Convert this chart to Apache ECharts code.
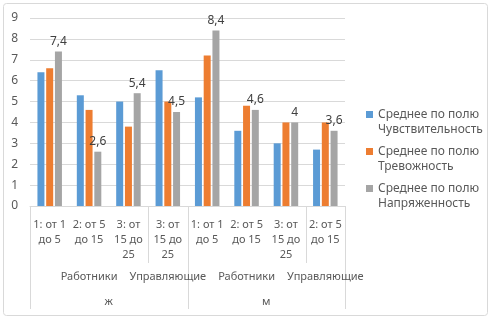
<!DOCTYPE html>
<html>
<head>
<meta charset="utf-8">
<script src="https://cdn.jsdelivr.net/npm/echarts@6/dist/echarts.min.js"></script>
<style>
  html, body { margin: 0; padding: 0; background: #fff; }
  #chart { width: 491px; height: 319px; }
</style>
</head>
<body>
<div id="chart"></div>
<script>
  // категории нижнего уровня
  var categories = ['1: от 1\nдо 5', '2: от 5\nдо 15', '3: от\n15 до\n25', '3: от\n15 до\n25',
    '1: от 1\nдо 5', '2: от 5\nдо 15', '3: от\n15 до\n25', '2: от 5\nдо 15'];
  var roles = ['', 'Работники', '', 'Управляющие', '', 'Работники', '', 'Управляющие'];
  var genders = ['ж', 'м'];
  var seriesNames = ['Среднее по полю\nЧувствительность', 'Среднее по полю\nТревожность', 'Среднее по полю\nНапряженность'];
  var sensitivity = [6.4, 5.3, 5.0, 6.5, 5.2, 3.6, 3.0, 2.7];
  var anxiety = [6.6, 4.6, 3.8, 5.0, 7.2, 4.8, 4.0, 4.0];
  var tension = [7.4, 2.6, 5.4, 4.5, 8.4, 4.6, 4.0, 3.6];
  var yTicks = [0, 9, 1];
  // индексы границ групп: полные линии и короткие
  var majorBounds = [0, 4, 8];
  var minorBounds = [3, 7];

  var font = 'Noto Sans';
  var textColor = '#595959';

  var myChart = echarts.init(document.getElementById('chart'));

  var option = {
    animation: false,
    grid: { left: 30, right: 146, top: 18, bottom: 113, outerBoundsMode: 'none', containLabel: false },
    legend: {
      orient: 'vertical',
      left: 361,
      top: 87,
      itemWidth: 7,
      itemHeight: 7,
      itemGap: -8,
      icon: 'rect',
      // пустая первая строка, чтобы значок стоял у первой строки текста
      formatter: function (name) {
        return ' \n' + name;
      },
      textStyle: { fontFamily: font, fontSize: 12, color: textColor, lineHeight: 15 },
      data: seriesNames
    },
    yAxis: {
      type: 'value',
      min: yTicks[0],
      max: yTicks[1],
      interval: yTicks[2],
      axisLine: { show: false },
      axisTick: { show: false },
      axisLabel: { fontFamily: font, fontSize: 12, color: textColor, margin: 12 },
      splitLine: { lineStyle: { color: '#d9d9d9' } }
    },
    xAxis: [
      {
        type: 'category',
        position: 'bottom',
        data: categories,
        axisLine: { lineStyle: { color: '#d9d9d9' } },
        axisTick: { show: false },
        axisLabel: { interval: 0, fontFamily: font, fontSize: 11, color: textColor, lineHeight: 15, margin: 11 }
      },
      {
        type: 'category',
        position: 'bottom',
        data: roles,
        offset: 65,
        axisLine: { show: false },
        axisTick: { show: false },
        axisLabel: { interval: 0, fontFamily: font, fontSize: 11, color: textColor, margin: 0 }
      },
      {
        type: 'category',
        position: 'bottom',
        data: genders,
        offset: 90,
        axisLine: { show: false },
        axisTick: { show: false },
        axisLabel: { interval: 0, fontFamily: font, fontSize: 11, color: textColor, margin: 0 }
      }
    ],
    series: [
      {
        name: seriesNames[0], type: 'bar', data: sensitivity,
        barWidth: 7, barGap: '25%',
        itemStyle: { color: '#5B9BD5' }
      },
      {
        name: seriesNames[1], type: 'bar', data: anxiety,
        barWidth: 7, barGap: '25%',
        itemStyle: { color: '#ED7D31' }
      },
      {
        name: seriesNames[2], type: 'bar', data: tension,
        barWidth: 7, barGap: '25%',
        itemStyle: { color: '#A5A5A5' },
        label: {
          show: true,
          position: 'top',
          fontFamily: font,
          fontSize: 12,
          color: '#404040',
          distance: 4,
          formatter: function (p) {
            return String(p.value).replace('.', ',');
          }
        }
      }
    ]
  };
  myChart.setOption(option);

  // линии разделителей многоуровневой оси
  var c0 = myChart.convertToPixel({ xAxisIndex: 0 }, 0);
  var c1 = myChart.convertToPixel({ xAxisIndex: 0 }, 1);
  var band = c1 - c0;
  var axisY = myChart.convertToPixel({ yAxisIndex: 0 }, 0);
  var graphics = [{
    type: 'rect',
    shape: { x: 3.5, y: 3.5, width: 484, height: 312, r: 3 },
    style: { fill: null, stroke: '#d9d9d9', lineWidth: 1 },
    silent: true
  }];
  majorBounds.forEach(function (b) {
    var x = Math.round(c0 + band * (b - 0.5)) + 0.5;
    graphics.push({
      type: 'line', silent: true,
      shape: { x1: x, y1: axisY, x2: x, y2: axisY + 103 },
      style: { stroke: '#d9d9d9', lineWidth: 1 }
    });
  });
  minorBounds.forEach(function (b) {
    var x = Math.round(c0 + band * (b - 0.5)) + 0.5;
    graphics.push({
      type: 'line', silent: true,
      shape: { x1: x, y1: axisY, x2: x, y2: axisY + 57 },
      style: { stroke: '#d9d9d9', lineWidth: 1 }
    });
  });
  myChart.setOption({ graphic: graphics });
</script>
</body>
</html>
